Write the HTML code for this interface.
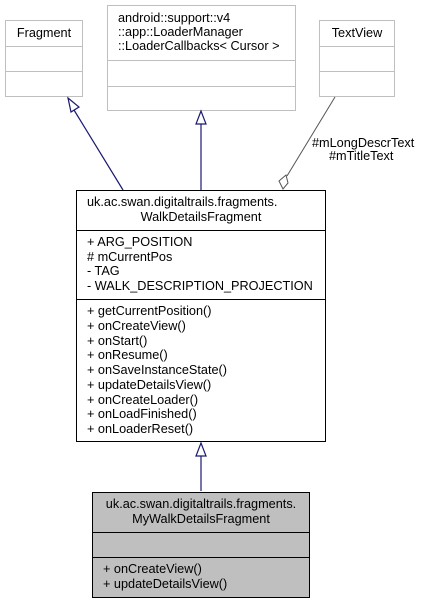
<!DOCTYPE html>
<html><head><style>body{margin:0;background:#fff}svg{display:block}text{font-family:"Liberation Sans",Arial,sans-serif;font-size:12.7px;fill:#000}</style></head>
<body>
<svg width="423" height="604" viewBox="0 0 423 604" xmlns="http://www.w3.org/2000/svg">
<g fill="#fff" stroke="#bfbfbf" stroke-width="1">
<rect x="5.5" y="20.5" width="77" height="76"/>
<line x1="5.5" y1="46.5" x2="82.5" y2="46.5"/><line x1="5.5" y1="71.5" x2="82.5" y2="71.5"/>
<rect x="107.5" y="5.5" width="188" height="105"/>
<line x1="107.5" y1="60.5" x2="295.5" y2="60.5"/><line x1="107.5" y1="86.5" x2="295.5" y2="86.5"/>
<rect x="319.5" y="20.5" width="75" height="76"/>
<line x1="319.5" y1="46.5" x2="394.5" y2="46.5"/><line x1="319.5" y1="71.5" x2="394.5" y2="71.5"/>
</g>
<text x="44" y="37" text-anchor="middle">Fragment</text>
<text x="118" y="22">android::support::v4</text>
<text x="118" y="36">::app::LoaderManager</text>
<text x="118" y="50">::LoaderCallbacks&lt; Cursor &gt;</text>
<text x="357" y="37" text-anchor="middle">TextView</text>
<g stroke="#191970" stroke-width="1.2" fill="#fff">
<line x1="123" y1="190" x2="74" y2="110"/>
<polygon points="68,98 79,107 71,112"/>
<line x1="201" y1="190" x2="201" y2="124"/>
<polygon points="201,111 196,124 206,124"/>
<line x1="201" y1="491" x2="201" y2="456"/>
<polygon points="201,443 196,456 206,456"/>
</g>
<g stroke="#555" stroke-width="1" fill="#fff">
<line x1="335" y1="97" x2="287" y2="176"/>
<polygon points="283,189 279,181 286,175 288,183"/>
</g>
<text x="312" y="147">#mLongDescrText</text>
<text x="329" y="160">#mTitleText</text>
<g fill="#fff" stroke="#000" stroke-width="1">
<rect x="76.5" y="190.5" width="249" height="251"/>
<line x1="76.5" y1="230.5" x2="325.5" y2="230.5"/><line x1="76.5" y1="299.5" x2="325.5" y2="299.5"/>
</g>
<text x="87" y="206">uk.ac.swan.digitaltrails.fragments.</text>
<text x="201" y="221" text-anchor="middle">WalkDetailsFragment</text>
<text x="87" y="246">+ ARG_POSITION</text>
<text x="87" y="261"># mCurrentPos</text>
<text x="87" y="275">- TAG</text>
<text x="87" y="290">- WALK_DESCRIPTION_PROJECTION</text>
<text x="87" y="315">+ getCurrentPosition()</text>
<text x="87" y="330">+ onCreateView()</text>
<text x="87" y="345">+ onStart()</text>
<text x="87" y="359">+ onResume()</text>
<text x="87" y="374">+ onSaveInstanceState()</text>
<text x="87" y="389">+ updateDetailsView()</text>
<text x="87" y="404">+ onCreateLoader()</text>
<text x="87" y="418">+ onLoadFinished()</text>
<text x="87" y="433">+ onLoaderReset()</text>
<g fill="#bfbfbf" stroke="#000" stroke-width="1">
<rect x="92.5" y="492.5" width="217" height="105"/>
<line x1="92.5" y1="532.5" x2="309.5" y2="532.5"/><line x1="92.5" y1="557.5" x2="309.5" y2="557.5"/>
</g>
<text x="201" y="508" text-anchor="middle">uk.ac.swan.digitaltrails.fragments.</text>
<text x="201" y="523" text-anchor="middle">MyWalkDetailsFragment</text>
<text x="103" y="573">+ onCreateView()</text>
<text x="103" y="588">+ updateDetailsView()</text>
</svg>
</body></html>
